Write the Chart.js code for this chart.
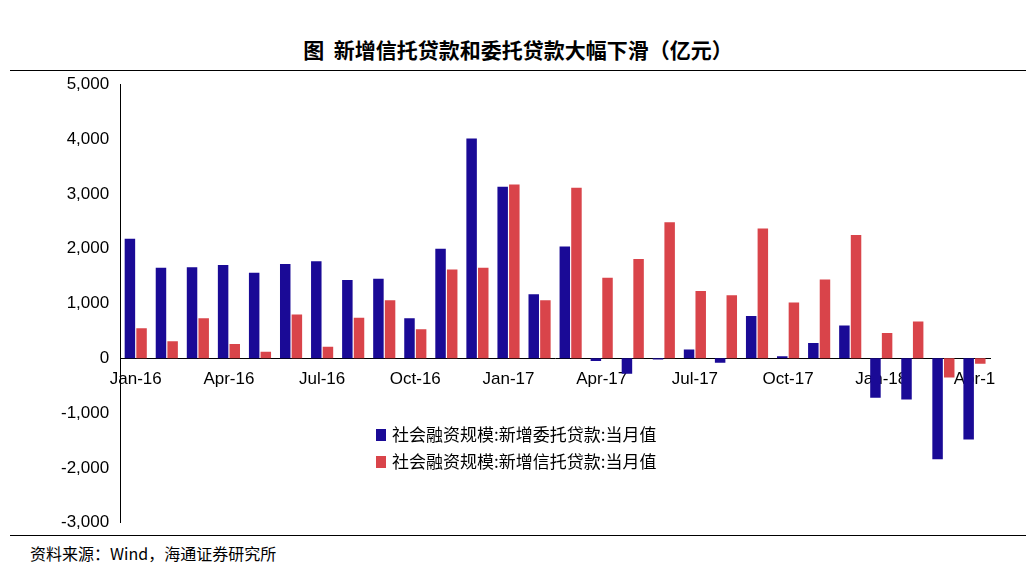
<!DOCTYPE html>
<html><head><meta charset="utf-8">
<script src="https://cdn.jsdelivr.net/npm/chart.js@4"></script>
<style>
body{margin:0;background:#fff;font-family:"Noto Sans CJK SC",Arial,sans-serif;}
#wrap{position:relative;width:1036px;height:574px;}
#title{position:absolute;top:34px;left:0;width:1036px;text-align:center;font-size:21px;font-weight:bold;color:#000;}
#l1{position:absolute;top:70px;left:10px;width:1016px;border-top:1px solid #000;}
#l2{position:absolute;top:535px;left:10px;width:1016px;border-top:1px solid #000;}
#src{position:absolute;top:541px;left:30px;font-size:16px;color:#000;}
#c{position:absolute;top:71px;left:0;}
</style></head><body>
<div id="wrap">
<div id="title">图&nbsp;&nbsp;新增信托贷款和委托贷款大幅下滑（亿元）</div>
<div id="l1"></div>
<canvas id="c" width="1036" height="465"></canvas>
<div id="l2"></div>
<div id="src">资料来源：Wind，海通证券研究所</div>
</div>
<script>
const categories=["Jan-16","Feb-16","Mar-16","Apr-16","May-16","Jun-16","Jul-16","Aug-16","Sep-16","Oct-16","Nov-16","Dec-16","Jan-17","Feb-17","Mar-17","Apr-17","May-17","Jun-17","Jul-17","Aug-17","Sep-17","Oct-17","Nov-17","Dec-17","Jan-18","Feb-18","Mar-18","Apr-18"];
const entrusted=[2180,1650,1660,1700,1560,1720,1770,1430,1450,730,2000,4010,3130,1170,2040,-50,-280,-20,160,-80,770,40,280,600,-720,-750,-1840,-1480];
const trust=[550,310,730,260,120,800,210,740,1060,530,1620,1650,3170,1060,3110,1470,1810,2480,1230,1150,2370,1020,1440,2250,460,670,-350,-100];
const seriesNames=["社会融资规模:新增委托贷款:当月值","社会融资规模:新增信托贷款:当月值"];
new Chart(document.getElementById('c'),{
type:'bar',
data:{labels:categories,datasets:[
{label:seriesNames[0],data:entrusted,backgroundColor:'#1a0a96',categoryPercentage:0.75,barPercentage:0.9},
{label:seriesNames[1],data:trust,backgroundColor:'#d9444a',categoryPercentage:0.75,barPercentage:0.9}]},
options:{responsive:false,animation:false,
layout:{padding:{left:58,right:46,top:2,bottom:0}},
plugins:{legend:{display:false},tooltip:{enabled:false}},
scales:{
x:{position:{y:0},grid:{display:false},border:{color:'#000'},
ticks:{autoSkip:false,maxRotation:0,color:'#000',font:{size:17,family:'Liberation Sans'},
callback:function(v,i){return i%3===0?(i===27?'Apr-1':categories[i]):'';}}},
y:{min:-3000,max:5000,grid:{display:false},border:{color:'#000'},
ticks:{stepSize:1000,color:'#000',font:{size:17,family:'Liberation Sans'},
callback:v=>v.toLocaleString('en-US')}}
}},
plugins:[{id:'leg',afterDraw(ch){const c=ch.ctx;c.save();c.font='17px "Noto Sans CJK SC"';c.textBaseline='middle';
[[0,'#1a0a96',364],[1,'#d9444a',391]].forEach(([i,col,y])=>{c.fillStyle=col;c.fillRect(376,y-6,10,12);c.fillStyle='#000';c.fillText(seriesNames[i],392,y);});c.restore();}}]
});
</script></body></html>
